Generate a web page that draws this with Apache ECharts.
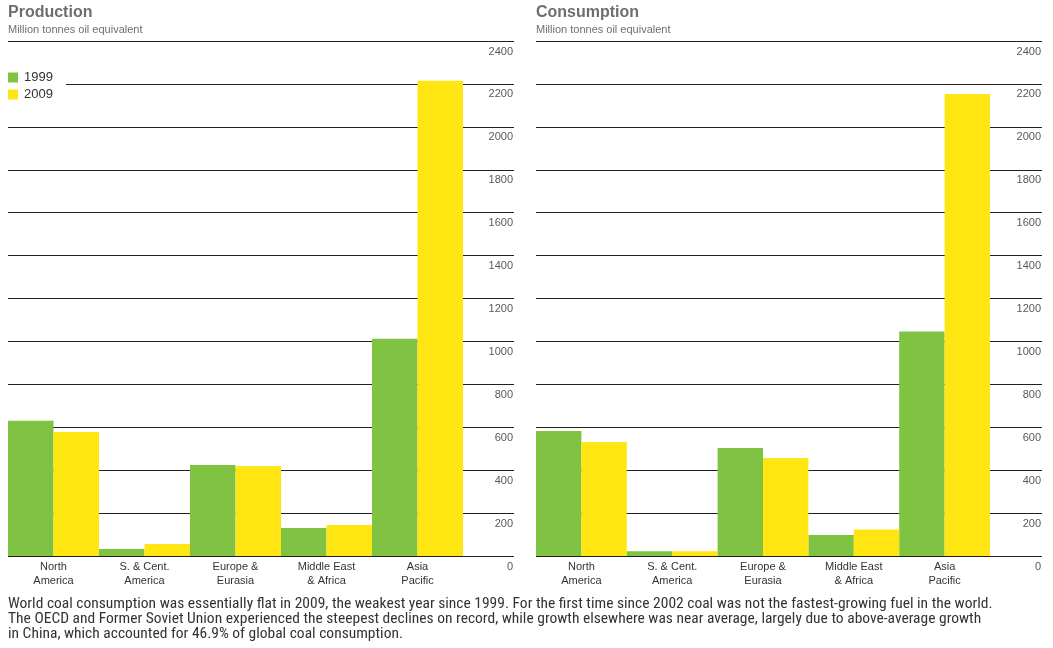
<!DOCTYPE html>
<html>
<head>
<meta charset="utf-8">
<script src="https://cdn.jsdelivr.net/npm/echarts@6/dist/echarts.min.js"></script>
<style>
  html, body { margin: 0; padding: 0; background: #fff; }
  #chart { width: 1053px; height: 648px; }
</style>
</head>
<body>
<div id="chart"></div>
<script>
// ---- data ----
var categories = ['North\nAmerica', 'S. & Cent.\nAmerica', 'Europe &\nEurasia', 'Middle East\n& Africa', 'Asia\nPacific'];
var seriesNames = ['1999', '2009'];
var production1999 = [630, 33, 424, 130, 1013];
var production2009 = [578, 56, 419, 144, 2215];
var consumption1999 = [582, 22, 503, 98, 1046];
var consumption2009 = [531, 22, 457, 123, 2153];
var yMin = 0, yMax = 2400, yInterval = 200;
var captionLines = [
  'World coal consumption was essentially flat in 2009, the weakest year since 1999. For the first time since 2002 coal was not the fastest-growing fuel in the world.',
  'The OECD and Former Soviet Union experienced the steepest declines on record, while growth elsewhere was near average, largely due to above-average growth',
  'in China, which accounted for 46.9% of global coal consumption.'
];

var FONT = '"Liberation Sans", Arial, Helvetica, sans-serif';
var NARROW = '"Liberation Sans Narrow", "Arial Narrow", "Roboto Condensed", "Liberation Sans", sans-serif';
var GREEN = '#80c342';
var YELLOW = '#ffe512';
var TITLE = '#6d6e71';
var LINE = '#231f20';

var chart = echarts.init(document.getElementById('chart'), null, { renderer: 'canvas' });

function axisGridY(gridIndex) {
  return {
    type: 'value', gridIndex: gridIndex, position: 'right',
    min: yMin, max: yMax, interval: yInterval,
    axisLine: { show: false }, axisTick: { show: false },
    splitLine: { show: true, lineStyle: { color: LINE, width: 1 } },
    axisLabel: {
      inside: true, margin: 1, verticalAlign: 'top', padding: [5, 0, 0, 0],
      color: '#58595b', fontSize: 11, fontFamily: FONT,
      formatter: function (v) { return String(v); }
    }
  };
}
function hiddenY(gridIndex) {
  return { type: 'value', gridIndex: gridIndex, min: yMin, max: yMax, interval: yInterval, show: false, splitLine: { show: false } };
}
function hiddenX(gridIndex) {
  return { type: 'value', gridIndex: gridIndex, min: 0, max: 1, show: false, splitLine: { show: false } };
}
function catX(gridIndex) {
  return {
    type: 'category', gridIndex: gridIndex, data: categories, boundaryGap: true,
    axisLine: { show: false }, axisTick: { show: false },
    axisLabel: { color: '#333', fontSize: 11, fontFamily: FONT, lineHeight: 14, margin: 4, interval: 0 }
  };
}
function bar(name, data, idx, color) {
  return {
    type: 'bar', name: name, data: data, xAxisIndex: idx, yAxisIndex: idx,
    barGap: '0%', barCategoryGap: '0%', itemStyle: { color: color },
    silent: true, animation: false
  };
}

var option = {
  animation: false,
  backgroundColor: '#fff',
  textStyle: { fontFamily: FONT },
  title: [
    { text: 'Production', subtext: 'Million tonnes oil equivalent', left: 8, top: 5, padding: 0, itemGap: 3,
      textStyle: { fontSize: 16, fontWeight: 'bold', color: TITLE, fontFamily: FONT },
      subtextStyle: { fontSize: 11, color: TITLE, fontFamily: FONT } },
    { text: 'Consumption', subtext: 'Million tonnes oil equivalent', left: 536, top: 5, padding: 0, itemGap: 3,
      textStyle: { fontSize: 16, fontWeight: 'bold', color: TITLE, fontFamily: FONT },
      subtextStyle: { fontSize: 11, color: TITLE, fontFamily: FONT } }
  ],
  legend: {
    orient: 'vertical', left: 8, top: 71, padding: 0, itemWidth: 10, itemHeight: 10, itemGap: 4,
    icon: 'rect', data: seriesNames, selectedMode: false, z: 20,
    textStyle: { fontSize: 13, color: '#333', fontFamily: FONT, padding: [0, 0, 0, 1] }
  },
  graphic: [
    { type: 'rect', left: 6, top: 79, shape: { width: 60, height: 11 }, style: { fill: '#fff' }, z: 15, silent: true },
    { type: 'text', left: 8, top: 596, z: 20, silent: true,
      style: { text: captionLines.join('\n'), fill: '#333', fontSize: 15.5, lineHeight: 15, fontFamily: NARROW } }
  ],
  grid: [
    { left: 8, top: 41, width: 506, height: 515, containLabel: false },
    { left: 8, top: 41, width: 455, height: 515, containLabel: false },
    { left: 536, top: 41, width: 506, height: 515, containLabel: false },
    { left: 536, top: 41, width: 454, height: 515, containLabel: false }
  ],
  xAxis: [hiddenX(0), catX(1), hiddenX(2), catX(3)],
  yAxis: [axisGridY(0), hiddenY(1), axisGridY(2), hiddenY(3)],
  series: [
    bar(seriesNames[0], production1999, 1, GREEN),
    bar(seriesNames[1], production2009, 1, YELLOW),
    bar(seriesNames[0], consumption1999, 3, GREEN),
    bar(seriesNames[1], consumption2009, 3, YELLOW)
  ]
};
chart.setOption(option);
</script>
</body>
</html>
